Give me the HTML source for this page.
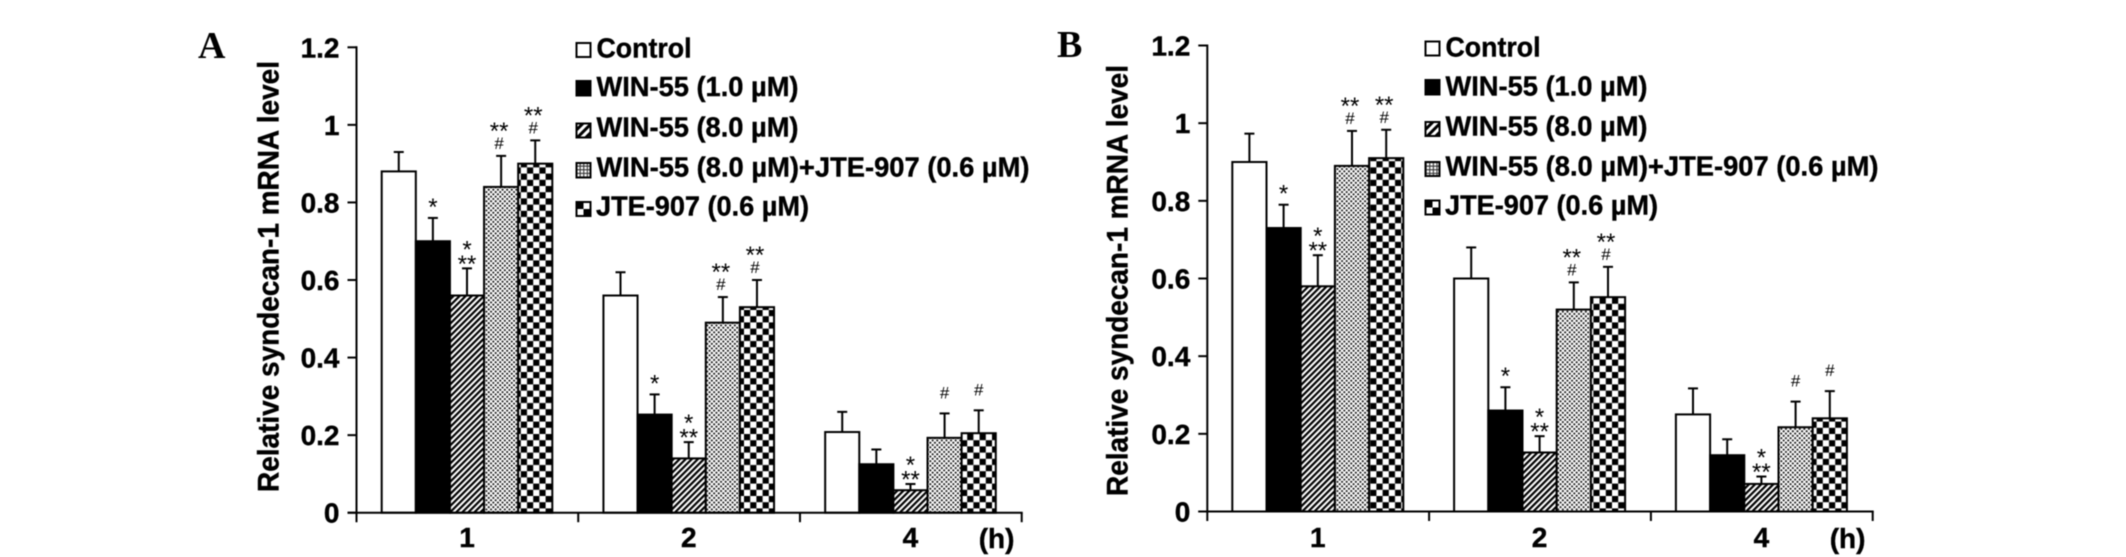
<!DOCTYPE html>
<html lang="en">
<head>
<meta charset="utf-8">
<title>Relative syndecan-1 mRNA level</title>
<style>
html,body{margin:0;padding:0;background:#fff;width:2126px;height:557px;overflow:hidden}
svg{display:block;filter:blur(0.45px)}
text{font-family:"Liberation Sans",Arial,sans-serif;fill:#000}
.leg{font-size:28px;font-weight:bold;stroke:#000;stroke-width:.4}
.letter{font-family:"Liberation Serif",serif;font-size:38px;font-weight:bold}
.tick{font-size:28px;font-weight:bold;stroke:#000;stroke-width:.4}
.ytitle{font-size:30px;font-weight:bold;stroke:#000;stroke-width:.4}
.swatch{stroke:#000;stroke-width:2}
</style>
</head>
<body>
<svg id="figure" xmlns="http://www.w3.org/2000/svg" width="2126" height="557" viewBox="0 0 2126 557">
<defs>
<pattern id="hatch" patternUnits="userSpaceOnUse" width="4.3" height="4.3" patternTransform="rotate(45)"><rect width="4.3" height="4.3" fill="#fff"/><rect width="2.2" height="4.3" fill="#000"/></pattern>
<pattern id="dots" patternUnits="userSpaceOnUse" width="4.6" height="4.6"><rect width="4.6" height="4.6" fill="#fff"/><circle cx="1.15" cy="1.15" r="1.05" fill="#111"/><circle cx="3.45" cy="3.45" r="1.05" fill="#111"/></pattern>
<pattern id="checker" patternUnits="userSpaceOnUse" width="12.4" height="12.4"><rect width="12.4" height="12.4" fill="#fff"/><rect width="6.2" height="6.2" fill="#000"/><rect x="6.2" y="6.2" width="6.2" height="6.2" fill="#000"/></pattern>
<pattern id="leg-hatch" patternUnits="userSpaceOnUse" width="6" height="6" patternTransform="rotate(45)"><rect width="6" height="6" fill="#fff"/><rect width="3" height="6" fill="#000"/></pattern>
<pattern id="leg-dots" patternUnits="userSpaceOnUse" width="3.6" height="3.6"><rect width="3.6" height="3.6" fill="#fff"/><rect width="1.1" height="3.6" fill="#333"/><rect width="3.6" height="1.1" fill="#333"/></pattern>
</defs>
<rect width="2126" height="557" fill="#fff"/>

<g id="panel-a">
  <text class="letter" x="198" y="58">A</text>
  <text class="ytitle" transform="translate(278.5,492) rotate(-90)" textLength="431" lengthAdjust="spacingAndGlyphs">Relative syndecan-1 mRNA level</text>
  <g id="legend-a">
    <g><rect class="swatch" x="576.5" y="43" width="14" height="14" fill="#fff"/><text class="leg" x="596.5" y="57.3" textLength="95" lengthAdjust="spacingAndGlyphs">Control</text></g>
    <g><rect class="swatch" x="576.5" y="81" width="14" height="14.5" fill="#000"/><text class="leg" x="596.5" y="96" textLength="202" lengthAdjust="spacingAndGlyphs">WIN-55 (1.0 µM)</text></g>
    <g><rect class="swatch" x="576.5" y="123.5" width="14" height="14" fill="url(#leg-hatch)"/><text class="leg" x="596.5" y="136.5" textLength="202" lengthAdjust="spacingAndGlyphs">WIN-55 (8.0 µM)</text></g>
    <g><rect class="swatch" x="576.5" y="163" width="14" height="14.5" fill="url(#leg-dots)"/><text class="leg" x="596.5" y="176.5" textLength="433" lengthAdjust="spacingAndGlyphs">WIN-55 (8.0 µM)+JTE-907 (0.6 µM)</text></g>
    <g><rect class="swatch" x="576.5" y="202" width="14" height="14" fill="#fff"/><rect x="577.5" y="203" width="6" height="6" fill="#000"/><rect x="583.5" y="209" width="6" height="6" fill="#000"/><text class="leg" x="596" y="215.3" textLength="213" lengthAdjust="spacingAndGlyphs">JTE-907 (0.6 µM)</text></g>
  </g>
</g>

<g id="panel-b">
  <text class="letter" x="1057" y="57">B</text>
  <text class="ytitle" transform="translate(1127.5,496) rotate(-90)" textLength="431" lengthAdjust="spacingAndGlyphs">Relative syndecan-1 mRNA level</text>
  <g id="legend-b">
    <g><rect class="swatch" x="1425.5" y="41.5" width="14" height="14" fill="#fff"/><text class="leg" x="1445.5" y="56.5" textLength="95" lengthAdjust="spacingAndGlyphs">Control</text></g>
    <g><rect class="swatch" x="1425.5" y="80" width="14" height="14.5" fill="#000"/><text class="leg" x="1445.5" y="95.3" textLength="202" lengthAdjust="spacingAndGlyphs">WIN-55 (1.0 µM)</text></g>
    <g><rect class="swatch" x="1425.5" y="122" width="14" height="14" fill="url(#leg-hatch)"/><text class="leg" x="1445.5" y="135.5" textLength="202" lengthAdjust="spacingAndGlyphs">WIN-55 (8.0 µM)</text></g>
    <g><rect class="swatch" x="1425.5" y="162" width="14" height="14" fill="url(#leg-dots)"/><text class="leg" x="1445.5" y="175.5" textLength="433" lengthAdjust="spacingAndGlyphs">WIN-55 (8.0 µM)+JTE-907 (0.6 µM)</text></g>
    <g><rect class="swatch" x="1425.5" y="200.5" width="14" height="14" fill="#fff"/><rect x="1426.5" y="201.5" width="6" height="6" fill="#000"/><rect x="1432.5" y="207.5" width="6" height="6" fill="#000"/><text class="leg" x="1445" y="214.5" textLength="213" lengthAdjust="spacingAndGlyphs">JTE-907 (0.6 µM)</text></g>
  </g>
</g>
</svg>

<script>
// Categories and tick labels
const timePoints = ["1", "2", "4"];
const timeUnit = "(h)";
const yTickValues = [0, 0.2, 0.4, 0.6, 0.8, 1, 1.2];
const yTickLabels = ["0", "0.2", "0.4", "0.6", "0.8", "1", "1.2"];
const seriesNames = ["control", "win-1", "win-8", "win-8-jte", "jte"];
const seriesFills = ["#fff", "#000", "url(#hatch)", "url(#dots)", "url(#checker)"];

// Panel A: values per time point (rows) and treatment (columns)
const panelAValues1h = [0.88, 0.70, 0.56, 0.84, 0.90];
const panelAValues2h = [0.56, 0.253, 0.14, 0.49, 0.53];
const panelAValues4h = [0.208, 0.125, 0.058, 0.193, 0.205];
const panelAErrors1h = [0.05, 0.06, 0.07, 0.08, 0.06];
const panelAErrors2h = [0.06, 0.052, 0.042, 0.066, 0.07];
const panelAErrors4h = [0.052, 0.038, 0.016, 0.063, 0.059];

// Panel B
const panelBValues1h = [0.90, 0.73, 0.58, 0.89, 0.91];
const panelBValues2h = [0.60, 0.26, 0.152, 0.52, 0.552];
const panelBValues4h = [0.25, 0.145, 0.071, 0.217, 0.24];
const panelBErrors1h = [0.073, 0.06, 0.08, 0.09, 0.073];
const panelBErrors2h = [0.08, 0.06, 0.042, 0.07, 0.078];
const panelBErrors4h = [0.067, 0.041, 0.019, 0.066, 0.07];

// Significance marks, same for both panels: per time point, per treatment
const marks1h = ["", "*", "*/**", "**/#", "**/#"];
const marks2h = ["", "*", "*/**", "**/#", "**/#"];
const marks4h = ["", "", "*/**", "#", "#"];

const SVG_NS = "http://www.w3.org/2000/svg";
const YMAX = 1.2;

function svgEl(tag, attrs, parent) {
  const el = document.createElementNS(SVG_NS, tag);
  for (const key in attrs) el.setAttribute(key, attrs[key]);
  parent.appendChild(el);
  return el;
}

function drawPanel(root, frame, values, errors, marks) {
  const yScale = v => frame.y0 - (v / YMAX) * (frame.y0 - frame.yTop);
  const groupWidth = (frame.xEnd - frame.x0) / timePoints.length;
  const barW = frame.groupBarsWidth / seriesNames.length;
  const xScale = (g, s) => frame.x0 + frame.barInset + g * groupWidth + s * barW;

  timePoints.forEach((t, g) => {
    seriesNames.forEach((name, s) => {
      const x = xScale(g, s);
      const top = yScale(values[g][s]);
      const errTop = yScale(values[g][s] + errors[g][s]);
      const cx = x + barW / 2;

      const stem = svgEl("line", {x1: cx, x2: cx, y1: top, y2: errTop, stroke: "#000", "stroke-width": 2}, root);
      
      
      const cap = svgEl("line", {x1: cx - 5, x2: cx + 5, y1: errTop, y2: errTop, stroke: "#000", "stroke-width": 2}, root);
      
      

      const bar = svgEl("rect", {x: x, y: top, width: barW, height: yScale(0) - top, fill: seriesFills[s], stroke: "#000", "stroke-width": 2}, root);
      
      

      drawMark(root, marks[g][s], cx, errTop, name + "-" + t + "h");
    });
  });

  const yAxis = svgEl("line", {x1: frame.x0, x2: frame.x0, y1: frame.yTop - 1, y2: frame.y0 + 9.5, stroke: "#000", "stroke-width": 2}, root);
  
  
  const xAxis = svgEl("line", {x1: frame.x0 - 9, x2: frame.xEnd + 1, y1: frame.y0, y2: frame.y0, stroke: "#000", "stroke-width": 2}, root);
  
  

  yTickValues.forEach((v, i) => {
    const y = yScale(v);
    const tick = svgEl("line", {x1: frame.x0 - 9, x2: frame.x0, y1: y, y2: y, stroke: "#000", "stroke-width": 2}, root);
    
    
    const label = svgEl("text", {x: frame.x0 - 17, y: y + 10, "text-anchor": "end", class: "tick"}, root);
    
    
    label.textContent = yTickLabels[i];
  });

  timePoints.forEach((t, g) => {
    const right = frame.x0 + (g + 1) * groupWidth;
    const tick = svgEl("line", {x1: right, x2: right, y1: frame.y0, y2: frame.y0 + 9.5, stroke: "#000", "stroke-width": 2}, root);
    
    
    const center = xScale(g, seriesNames.length / 2);
    const label = svgEl("text", {x: center, y: frame.labelY, "text-anchor": "middle", class: "tick"}, root);
    
    
    label.textContent = t;
  });

  const unit = svgEl("text", {x: frame.xEnd - 43, y: frame.labelY + 1, class: "tick"}, root);
  
  
  unit.textContent = timeUnit;
}

function addSymbol(root, str, x, y, tag) {
  const isHash = str === "#";
  const t = svgEl("text", {x: x, y: y, "text-anchor": "middle", "font-size": isHash ? 17 : 24}, root);
  
  
  t.textContent = str;
}

function drawMark(root, kind, cx, errTop, tag) {
  if (kind === "*") {
    addSymbol(root, "*", cx, errTop - 3, tag);
  } else if (kind === "*/**") {
    addSymbol(root, "*", cx, errTop - 11, tag);
    addSymbol(root, "**", cx, errTop + 3.5, tag);
  } else if (kind === "**/#") {
    addSymbol(root, "**", cx - 2, errTop - 17, tag);
    addSymbol(root, "#", cx - 2, errTop - 7, tag);
  } else if (kind === "#") {
    addSymbol(root, "#", cx, errTop - 15, tag);
  }
}

drawPanel(document.getElementById("panel-a"),
  {x0: 356.5, xEnd: 1021.7, y0: 512.7, yTop: 47.3, barInset: 25.2, groupBarsWidth: 170.6, labelY: 547},
  [panelAValues1h, panelAValues2h, panelAValues4h],
  [panelAErrors1h, panelAErrors2h, panelAErrors4h],
  [marks1h, marks2h, marks4h]);

drawPanel(document.getElementById("panel-b"),
  {x0: 1207.3, xEnd: 1872.7, y0: 511.5, yTop: 45.5, barInset: 25, groupBarsWidth: 171, labelY: 547},
  [panelBValues1h, panelBValues2h, panelBValues4h],
  [panelBErrors1h, panelBErrors2h, panelBErrors4h],
  [marks1h, marks2h, marks4h]);
</script>
</body>
</html>
